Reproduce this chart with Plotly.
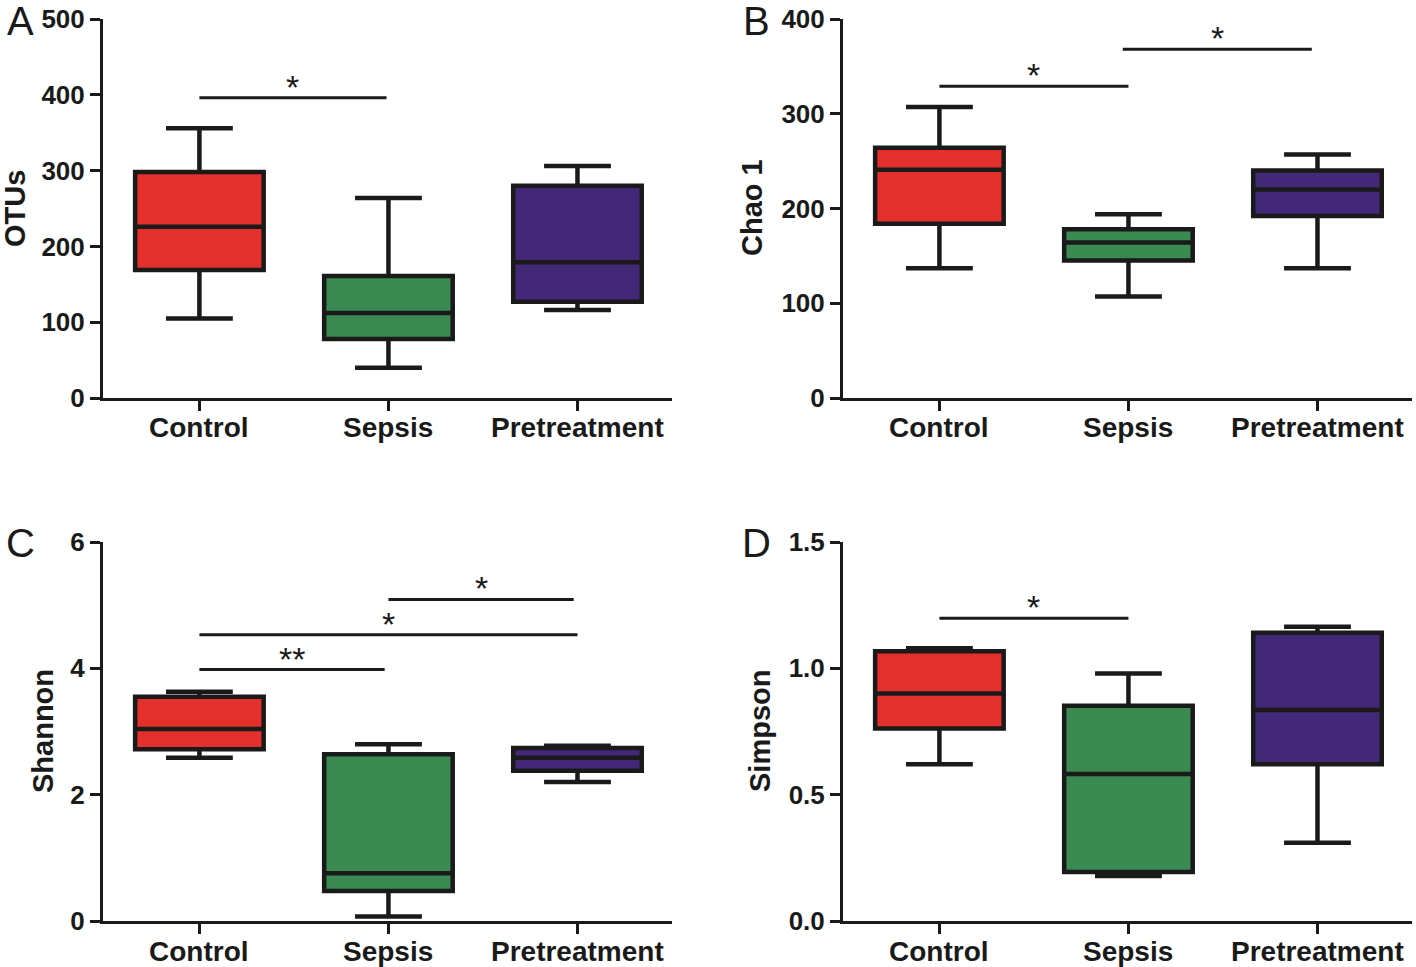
import plotly.graph_objects as go

categories = ["Control", "Sepsis", "Pretreatment"]
colors = ["#E3302D", "#3A8A52", "#422876"]

# Panel A: OTUs
otus_low = [105, 40, 116]
otus_q1 = [169, 78, 127]
otus_med = [226, 112, 179]
otus_q3 = [298, 161, 280]
otus_high = [356, 264, 306]

# Panel B: Chao 1
chao_low = [137, 107, 137]
chao_q1 = [184, 145, 192]
chao_med = [241, 164, 220]
chao_q3 = [264, 178, 240]
chao_high = [307, 194, 257]

# Panel C: Shannon
shan_low = [2.585, 0.07, 2.20]
shan_q1 = [2.72, 0.475, 2.38]
shan_med = [3.04, 0.755, 2.585]
shan_q3 = [3.55, 2.64, 2.74]
shan_high = [3.63, 2.80, 2.775]

# Panel D: Simpson
simp_low = [0.62, 0.178, 0.31]
simp_q1 = [0.762, 0.194, 0.62]
simp_med = [0.90, 0.582, 0.835]
simp_q3 = [1.068, 0.852, 1.141]
simp_high = [1.079, 0.98, 1.165]

# significance brackets: (from category index, to category index, y, label)
sig_A = [(0, 0.99, 396, "*")]
sig_B = [(0, 1.0, 329, "*"), (0.97, 1.97, 368, "*")]
sig_C = [(0, 0.98, 3.98, "**"), (0, 2.0, 4.53, "*"), (1.0, 1.98, 5.09, "*")]
sig_D = [(0, 1.0, 1.198, "*")]

panels = [
    dict(letter="A", title="OTUs", low=otus_low, q1=otus_q1, med=otus_med, q3=otus_q3, high=otus_high,
         yrange=[0, 500], tickvals=[0, 100, 200, 300, 400, 500], ticktext=["0", "100", "200", "300", "400", "500"], sig=sig_A),
    dict(letter="B", title="Chao 1", low=chao_low, q1=chao_q1, med=chao_med, q3=chao_q3, high=chao_high,
         yrange=[0, 400], tickvals=[0, 100, 200, 300, 400], ticktext=["0", "100", "200", "300", "400"], sig=sig_B),
    dict(letter="C", title="Shannon", low=shan_low, q1=shan_q1, med=shan_med, q3=shan_q3, high=shan_high,
         yrange=[0, 6], tickvals=[0, 2, 4, 6], ticktext=["0", "2", "4", "6"], sig=sig_C),
    dict(letter="D", title="Simpson", low=simp_low, q1=simp_q1, med=simp_med, q3=simp_q3, high=simp_high,
         yrange=[0, 1.5], tickvals=[0, 0.5, 1.0, 1.5], ticktext=["0.0", "0.5", "1.0", "1.5"], sig=sig_D),
]

W, H = 1416, 967
xdoms = [[103 / W, 672 / W], [843 / W, 1412 / W]]
ydoms = [[1 - 398 / H, 1 - 19 / H], [1 - 921 / H, 1 - 542 / H]]
catlabel_y = [428, 951]
letter_pos = [(20, 0, "top"), (757, 0, "top"), (20, 543, "middle"), (757, 543, "middle")]
title_pos = [(15, 209), (752, 208), (43, 731), (760, 731)]

FONT = "Liberation Sans, Arial, sans-serif"
INK = "#1a1a1a"
fig = go.Figure()
layout = dict(
    width=W, height=H, margin=dict(l=0, r=0, t=0, b=0, pad=0), autosize=False,
    paper_bgcolor="white", plot_bgcolor="white", showlegend=False,
    boxmode="overlay", font=dict(family=FONT, color="black"),
)
shapes = []
annotations = []

for i, p in enumerate(panels):
    n = i + 1
    xa = "x" if n == 1 else f"x{n}"
    ya = "y" if n == 1 else f"y{n}"
    for j, cat in enumerate(categories):
        fig.add_trace(go.Box(
            x=[cat], q1=[p["q1"][j]], median=[p["med"][j]], q3=[p["q3"][j]],
            lowerfence=[p["low"][j]], upperfence=[p["high"][j]],
            fillcolor=colors[j], line=dict(color=INK, width=4.5),
            width=0.68, whiskerwidth=0.52, boxpoints=False,
            xaxis=xa, yaxis=ya, hoverinfo="skip", name=cat,
        ))
    axis_common = dict(showline=True, linewidth=3, linecolor=INK, ticks="outside",
                       ticklen=10, tickwidth=3, tickcolor=INK, showgrid=False, zeroline=False,
                       automargin=False)
    layout[f"xaxis{'' if n == 1 else n}"] = dict(
        domain=xdoms[i % 2], anchor=ya, type="category", categoryorder="array",
        categoryarray=categories, range=[-0.51, 2.5], showticklabels=False, **axis_common)
    layout[f"yaxis{'' if n == 1 else n}"] = dict(
        domain=ydoms[i // 2], anchor=xa, range=p["yrange"], tickvals=p["tickvals"],
        ticktext=p["ticktext"], tickfont=dict(size=26, family=FONT, weight="bold", color=INK),
        **axis_common)
    # category labels
    for cat in categories:
        annotations.append(dict(x=cat, y=1 - catlabel_y[i // 2] / H, xref=xa, yref="paper",
                                text=f"<b>{cat}</b>", showarrow=False, xanchor="center", yanchor="middle",
                                font=dict(size=28, family=FONT, color=INK)))
    for (a, b, yv, lab) in p["sig"]:
        shapes.append(dict(type="line", xref=xa, yref=ya, x0=a, x1=b, y0=yv, y1=yv,
                           line=dict(color=INK, width=3)))
        annotations.append(dict(x=(a + b) / 2, y=yv, xref=xa, yref=ya, text=lab, showarrow=False,
                                yanchor="bottom", yshift=-10,
                                font=dict(size=34, family=FONT, color=INK)))
    lx, ly, lanchor = letter_pos[i]
    annotations.append(dict(x=lx / W, y=1 - ly / H, xref="paper", yref="paper", text=p["letter"],
                            showarrow=False, xanchor="center", yanchor=lanchor, yshift=(3 if lanchor == "top" else 0),
                            font=dict(size=40, family=FONT, color=INK)))
    tx, ty = title_pos[i]
    annotations.append(dict(x=tx / W, y=1 - ty / H, xref="paper", yref="paper", text=f"<b>{p['title']}</b>",
                            showarrow=False, xanchor="center", yanchor="middle", textangle=-90,
                            font=dict(size=29, family=FONT, color=INK)))

layout["shapes"] = shapes
layout["annotations"] = annotations
fig.update_layout(**layout)
fig.write_html("out.html", config={"displayModeBar": False},
               post_script="document.body.style.margin='0';document.body.style.overflow='hidden';")
